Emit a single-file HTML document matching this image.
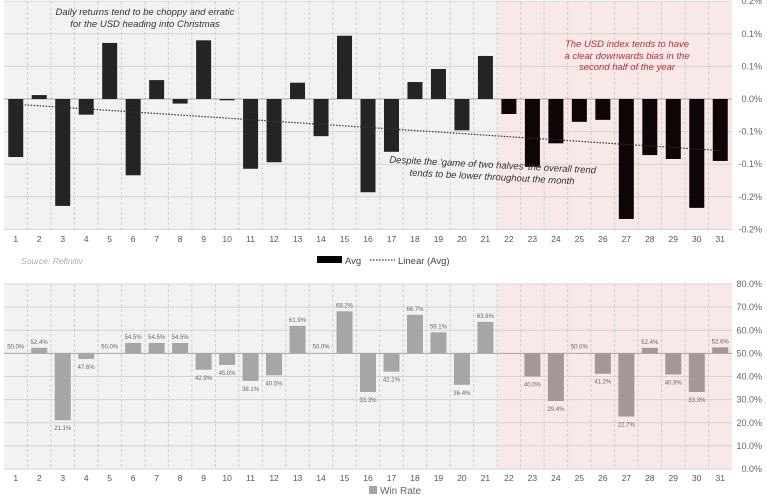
<!DOCTYPE html>
<html><head><meta charset="utf-8"><style>
body{margin:0;background:#fff;width:767px;height:498px;overflow:hidden;font-family:"Liberation Sans",sans-serif}
</style></head><body>
<svg id="c" width="767" height="498" xmlns="http://www.w3.org/2000/svg" font-family="Liberation Sans, sans-serif"></svg>
<script>
const days=[1,2,3,4,5,6,7,8,9,10,11,12,13,14,15,16,17,18,19,20,21,22,23,24,25,26,27,28,29,30,31];
const avgReturns=[-0.089,0.006,-0.164,-0.024,0.086,-0.117,0.029,-0.007,0.090,-0.002,-0.107,-0.097,0.025,-0.057,0.097,-0.143,-0.081,0.026,0.046,-0.048,0.066,-0.023,-0.104,-0.068,-0.035,-0.032,-0.184,-0.086,-0.092,-0.167,-0.095];
const winRates=[50.0,52.4,21.1,47.6,50.0,54.5,54.5,54.5,42.9,45.0,38.1,40.5,61.9,50.0,68.2,33.3,42.1,66.7,59.1,36.4,63.6,null,40.0,29.4,50.0,41.2,22.7,52.4,40.9,33.3,52.6];
const topTicks=[0.15,0.1,0.05,0,-0.05,-0.1,-0.15,-0.2];
const topTickLabels=["0.2%","0.1%","0.1%","0.0%","-0.1%","-0.1%","-0.2%","-0.2%"];
const botTicks=[80,70,60,50,40,30,20,10,0];
const botTickLabels=["80.0%","70.0%","60.0%","50.0%","40.0%","30.0%","20.0%","10.0%","0.0%"];

const svg=document.getElementById('c');
const NS='http://www.w3.org/2000/svg';
function mk(tag,attrs,parent){const e=document.createElementNS(NS,tag);for(const k in attrs)e.setAttribute(k,attrs[k]);(parent||svg).appendChild(e);return e;}
const X0=4,X1=732,colW=(X1-X0)/days.length;
const cx=i=>X0+colW*(i+0.5);
const yT=v=>99-(v/0.05)*32.6;
const yB=v=>469-v*2.3125;
const split=X0+colW*21;

function panel(top,bottom,ticks,labels,yf,name){
  const bg=mk('rect',{x:X0,y:top,width:split-X0,height:bottom-top,fill:'#f2f2f2'});
  
  const bg2=mk('rect',{x:split,y:top,width:X1-split,height:bottom-top,fill:'#f9e8e8'});
  
  ticks.forEach((t,k)=>{const y=yf(t);
    const g=mk('line',{x1:X0,x2:X1,y1:y,y2:y,stroke:'#d4d4d4','stroke-width':1});
    
    const tx=mk('text',{x:762,y:y+3,'font-size':9,fill:'#666','text-anchor':'end'});tx.textContent=labels[k];
    
  });
  for(let i=1;i<days.length;i++){const x=X0+colW*i;
    const l=mk('line',{x1:x,x2:x,y1:top,y2:bottom,stroke:'#cfcfcf','stroke-dasharray':'3,2'});
    }
  days.forEach((d,i)=>{const t=mk('text',{x:cx(i),y:bottom+12,'font-size':8.5,fill:'#555','text-anchor':'middle'});t.textContent=d;
    });
}
panel(2,230,topTicks,topTickLabels,yT,'returns');
const z=mk('line',{x1:X0,x2:X1,y1:yT(0),y2:yT(0),stroke:'#aaa'});

avgReturns.forEach((v,i)=>{const y0=yT(0),y1=yT(v);
  const r=mk('rect',{x:cx(i)-7.5,y:Math.min(y0,y1),width:15,height:Math.max(1,Math.abs(y1-y0)),fill:i>=21?'#0d0506':'#242424'});
  });
// linear trend
const n=days.length,mx=days.reduce((a,b)=>a+b)/n,my=avgReturns.reduce((a,b)=>a+b)/n;
let sxy=0,sxx=0;days.forEach((d,i)=>{sxy+=(d-mx)*(avgReturns[i]-my);sxx+=(d-mx)*(d-mx);});
const sl=sxy/sxx,ic=my-sl*mx;
const tl=mk('line',{x1:cx(0),y1:yT(ic+sl*days[0]),x2:cx(n-1),y2:yT(ic+sl*days[n-1]),stroke:'#333','stroke-width':1.2,'stroke-dasharray':'1.5,1.5'});


function txt(x,y,s,attrs,name){const t=mk('text',Object.assign({x:x,y:y,'font-size':9.5,'font-style':'italic','text-anchor':'middle',fill:'#333'},attrs||{}));t.textContent=s;return t;}
txt(145,15,'Daily returns tend to be choppy and erratic',{},'annotation-choppy-line1');
txt(145,27,'for the USD heading into Christmas',{},'annotation-choppy-line2');
txt(627,47,'The USD index tends to have',{fill:'#c0303a'},'annotation-downward-line1');
txt(627,59,'a clear downwards bias in the',{fill:'#c0303a'},'annotation-downward-line2');
txt(627,70,'second half of the year',{fill:'#c0303a'},'annotation-downward-line3');
const g=mk('g',{transform:'rotate(3 492 178)'});

[['Despite the \'game of two halves\' the overall trend',168],['tends to be lower throughout the month',180],].forEach((a,k)=>{const t=mk('text',{x:492,y:a[1],'font-size':9.5,'font-style':'italic','text-anchor':'middle',fill:'#333'},g);t.textContent=a[0];});

txt(52,264,'Source: Refinitiv',{fill:'#aaa','font-size':8.5},'source-note');
const lg=mk('rect',{x:317,y:256,width:25,height:7,fill:'#000'});
const lt=mk('text',{x:345,y:264,'font-size':9.5,fill:'#444'});lt.textContent='Avg';
const ll=mk('line',{x1:370,x2:395,y1:260,y2:260,stroke:'#333','stroke-dasharray':'1.5,1.5','stroke-width':1.2});
const lt2=mk('text',{x:398,y:264,'font-size':9.5,fill:'#444'});lt2.textContent='Linear (Avg)';

panel(284,469,botTicks,botTickLabels,yB,'winrate');
const z2=mk('line',{x1:X0,x2:X1,y1:yB(50),y2:yB(50),stroke:'#aaa'});

winRates.forEach((v,i)=>{if(v===null)return;const y0=yB(50),y1=yB(v);
  if(v!==50){const r=mk('rect',{x:cx(i)-8,y:Math.min(y0,y1),width:16,height:Math.abs(y1-y0),fill:i>=21?'#a39797':'#a6a6a6'});
  }
  const ly=v>50?y1-4:(v<50?y1+10:y0-5);
  const t=mk('text',{x:cx(i),y:ly,'font-size':6,fill:'#666','text-anchor':'middle'});t.textContent=v.toFixed(1)+'%';
  });
const wl=mk('rect',{x:369,y:486,width:8,height:8,fill:'#a6a6a6'});
const wt=mk('text',{x:380,y:494,'font-size':10,fill:'#666'});wt.textContent='Win Rate';
</script>
</body></html>
